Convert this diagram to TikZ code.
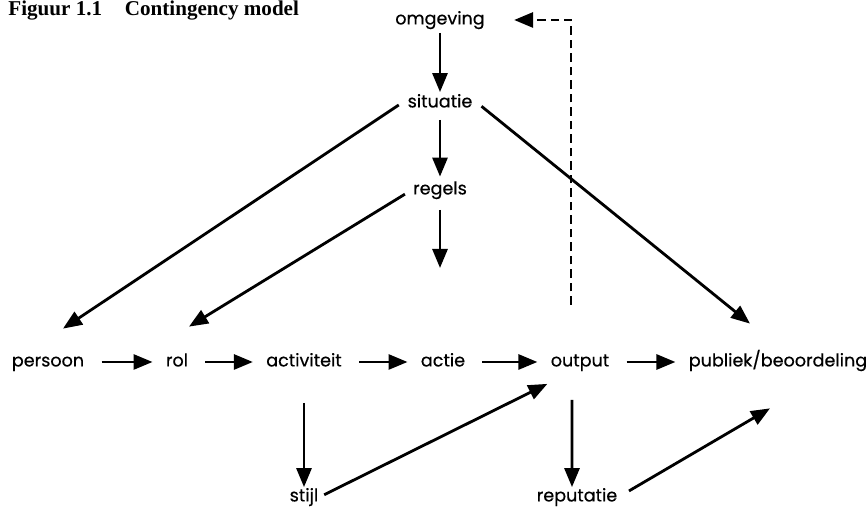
\documentclass[tikz,border=0pt]{standalone}
\usepackage{fontspec}
\setmainfont{Liberation Serif}
\newfontfamily\labelfont[FakeBold=0.5]{Poppins}
\usetikzlibrary{arrows.meta}

\begin{document}
\begin{tikzpicture}[line width = 1.6pt,
								lbl/.style = {inner sep = 0pt, font = 
								\labelfont\fontsize{10}{12}\selectfont,
								text height = 1.6ex, text depth = 0.5ex},
								arr/.style = {-{Triangle[length = 0.38cm, 
								width = 0.3cm]}},
								hor/.style = {arr, shorten < = 0.32cm,
								shorten > = 0.24cm},
								fback/.style = {arr, dash pattern = on 0.17cm
								off 0.1cm},
								]
				\useasboundingbox (0,0) rectangle (17.34,10.14);

				\node [anchor = base west, inner sep = 0pt, font = \bfseries
				\fontsize{12}{14}\selectfont] (titel) at (0.14,9.83)
				{Figuur 1.1\hspace{13pt}Contingency model};

				\node [lbl] (omgeving) at (8.80,9.74) {omgeving};
				\node [lbl] (situatie) at (8.80,8.08) {situatie};
				\node [lbl] (regels) at (8.80,6.34) {regels};
				\coordinate (r_end) at (8.80,4.78);

				\node [lbl] (persoon) at (0.96,2.90) {persoon};
				\node [lbl] (rol) at (3.54,2.90) {rol};
				\node [lbl] (activiteit) at (6.08,2.90) {activiteit};
				\node [lbl] (actie) at (8.86,2.90) {actie};
				\node [lbl] (output) at (11.60,2.90) {output};
				\node [lbl] (publiek) at (15.56,2.90) {publiek/beoordeling};
				\node [lbl] (stijl) at (6.08,0.20) {stijl};
				\node [lbl] (reputatie) at (11.54,0.20) {reputatie};
				\coordinate (fb) at (11.42,4.04);

				\draw [arr, shorten < = 0.06cm, shorten > = 0.02cm] (omgeving) -- (situatie);
				\draw [arr, shorten < = 0.14cm, shorten > = 0.07cm] (situatie) -- (regels);
				\draw [arr, shorten < = 0.2cm] (regels) -- (r_end);

				\draw [arr, shorten < = 0.18cm] ([yshift = 0.06cm]situatie.west) --
				([xshift = 0.3cm, yshift = 0.47cm]persoon.north);
				\draw [arr, shorten < = 0.16cm] (regels.west) --
				([xshift = 0.24cm, yshift = 0.51cm]rol.north);
				\draw [arr, shorten < = 0.2cm] ([yshift = 0.06cm]situatie.east) --
				([xshift = -0.56cm, yshift = 0.57cm]publiek.north);

				\draw [hor] (persoon) -- (rol);
				\draw [hor] (rol) -- (activiteit);
				\draw [hor] (activiteit) -- (actie);
				\draw [hor] (actie) -- (output);
				\draw [hor] (output) -- (publiek);

				\draw [arr, shorten < = 0.62cm] (activiteit.south) -- (stijl.north);
				\draw [arr, shorten < = 0.1cm] (stijl.east) --
				([xshift = -0.04cm, yshift = -0.24cm]output.south west);
				\draw [arr, shorten < = 0.56cm] ([xshift = -0.16cm]output.south) --
				([xshift = -0.1cm]reputatie.north);
				\draw [arr, shorten < = 0.24cm] (reputatie.east) --
				([xshift = -0.16cm, yshift = -0.73cm]publiek.south);

				\draw [fback, shorten > = 0.56cm] (fb) |- (omgeving.east);
			\end{tikzpicture}
\end{document}
